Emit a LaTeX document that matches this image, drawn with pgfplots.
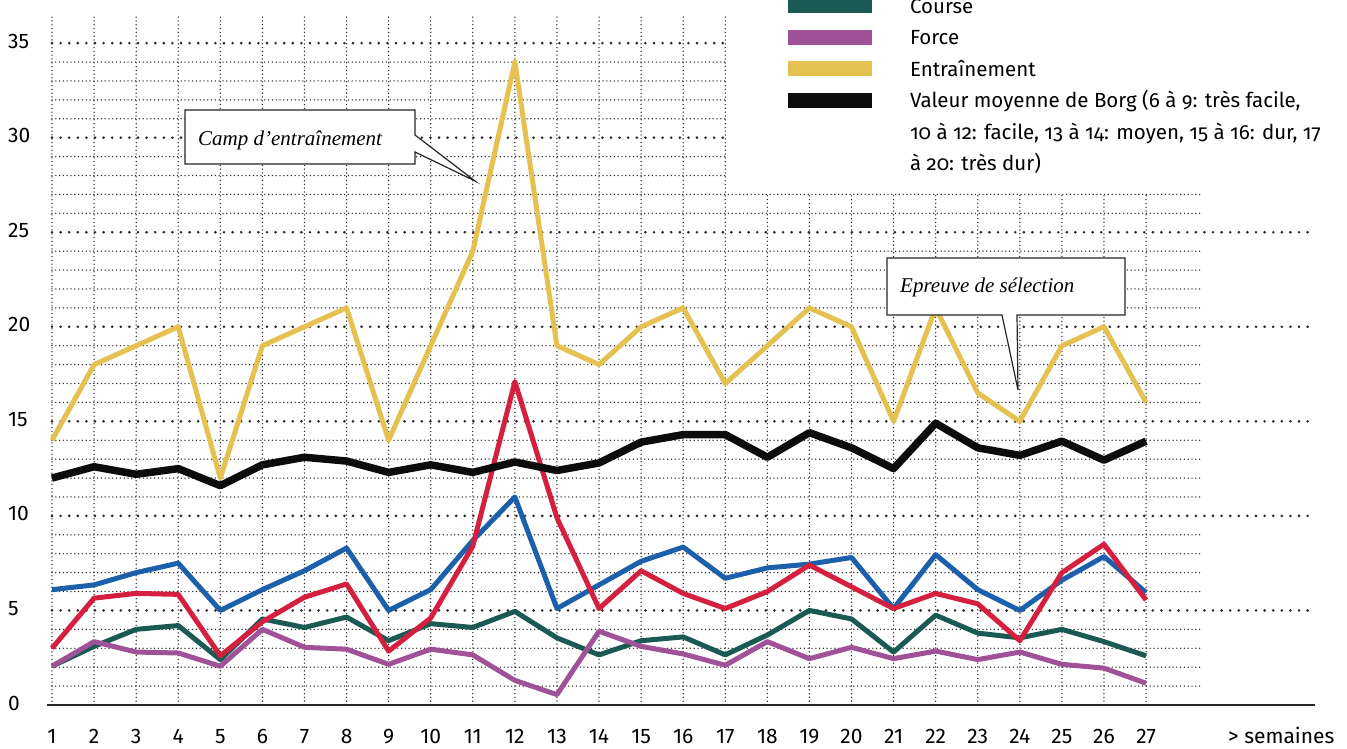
\documentclass[border=0pt]{standalone}
\usepackage{fontspec}
\setmainfont{Fira Sans}
\newfontfamily\legfont[Numbers=OldStyle]{Fira Sans}
\newfontfamily\callfont{Liberation Serif}
\usepackage{pgfplots}
\pgfplotsset{compat=1.18}
\usepackage{pgfplotstable}

\definecolor{cyellow}{RGB}{228,193,80}
\definecolor{cblue}{RGB}{28,96,172}
\definecolor{cred}{RGB}{212,32,62}
\definecolor{cteal}{RGB}{26,90,82}
\definecolor{cpurple}{RGB}{160,82,152}
\definecolor{cblack}{RGB}{12,12,12}
\definecolor{cgrid}{RGB}{45,40,40}

\pgfplotstableread{
w  ent  borg  blue  red   course force
1  14   12.0  6.1   3.0   2.05   2.05
2  18   12.6  6.35  5.65  3.1    3.35
3  19   12.2  7.0   5.9   4.0    2.8
4  20   12.5  7.5   5.85  4.2    2.75
5  12   11.6  5.0   2.6   2.4    2.05
6  19   12.7  6.1   4.4   4.55   4.0
7  20   13.1  7.1   5.7   4.1    3.05
8  21   12.9  8.3   6.4   4.65   2.95
9  14   12.3  5.0   2.85  3.4    2.15
10 19   12.7  6.1   4.6   4.3    2.95
11 24   12.3  8.7   8.4   4.1    2.65
12 34   12.85 11.0  17.1  4.95   1.3
13 19   12.4  5.1   9.9   3.55   0.55
14 18   12.8  6.35  5.1   2.65   3.9
15 20   13.9  7.6   7.1   3.4    3.1
16 21   14.3  8.35  5.9   3.6    2.7
17 17   14.3  6.7   5.1   2.65   2.1
18 19   13.1  7.25  6.0   3.7    3.35
19 21   14.4  7.45  7.4   5.0    2.45
20 20   13.6  7.8   6.25  4.55   3.05
21 15   12.5  5.1   5.1   2.8    2.45
22 21   14.9  7.95  5.9   4.75   2.85
23 16.5 13.6  6.1   5.35  3.8    2.4
24 15   13.2  5.0   3.4   3.55   2.8
25 19   13.95 6.6   7.0   4.0    2.15
26 20   12.95 7.85  8.5   3.35   1.95
27 16   13.95 5.95  5.55  2.6    1.15
}\datatable

\tikzset{
  minorgrid/.style={cgrid, line width=1.5pt, line cap=round, dash pattern=on 0pt off 3.8pt},
  majorgrid/.style={cgrid, line width=2.9pt, line cap=round, dash pattern=on 0pt off 8.6pt},
}

\begin{document}
\begin{tikzpicture}
\begin{axis}[
  at={(9.92pt,44pt)}, anchor=south west,
  scale only axis, width=1346.56pt, height=699.67pt,
  xmin=0, xmax=32, ymin=0, ymax=37,
  clip=false, set layers,
  axis line style={draw=none}, tick style={draw=none},
  xtick={1,...,27}, ytick={0,5,...,35},
  /pgf/number format/assume math mode=true,
  tick label style={font=\fontsize{21}{25}\selectfont, inner sep=0pt},
  xticklabel style={anchor=base, yshift=-39pt},
  yticklabel style={anchor=west, xshift=-2pt, yshift=2pt},
  xlabel={> semaines},
  xlabel style={at={(axis description cs:0.9046,-0.0557)}, anchor=base west,
    font=\fontsize{21}{25}\selectfont, inner sep=0pt},
  legend image code/.code={\draw[#1, line width=15pt, line cap=butt] (0pt,7.5pt) -- (84pt,7.5pt);},
  legend style={draw=none, fill=none, inner sep=0pt, outer sep=0pt,
    row sep=11.5pt, column sep=31pt,
    at={(0.57190,1.00976)}, anchor=north west,
    cells={anchor=base west},
    nodes={inner sep=0pt, text height=15pt, text depth=5pt,
      font=\legfont\fontsize{20.5}{31.5}\selectfont}},
]
\begin{pgfonlayer}{axis background}
  \pgfplotsinvokeforeach{1,...,17}{\draw[minorgrid] (axis cs:#1,0) -- (axis cs:#1,36.45);}
  \pgfplotsinvokeforeach{18,...,27}{\draw[minorgrid] (axis cs:#1,0) -- (axis cs:#1,27);}
  \pgfplotsinvokeforeach{1,2,3,4,6,7,8,9,11,12,13,14,16,17,18,19,21,22,23,24,26,27}{\draw[minorgrid] (axis cs:1,#1) -- (axis cs:28.28,#1);}
  \pgfplotsinvokeforeach{28,29,31,32,33,34}{\draw[minorgrid] (axis cs:1,#1) -- (axis cs:17,#1);}
  \pgfplotsinvokeforeach{5,10,15,20,25}{\draw[majorgrid] (axis cs:1,#1) -- (axis cs:31.01,#1);}
  \pgfplotsinvokeforeach{30,35}{\draw[majorgrid] (axis cs:1,#1) -- (axis cs:17,#1);}
  \draw[black!85, line width=1.6pt] (axis cs:0.88,0) -- (axis cs:31.01,0);
\end{pgfonlayer}

\addplot[cblue, line width=5pt, line join=round, forget plot] table[x=w, y=blue] {\datatable};
\addplot[cteal, line width=5pt, line join=round] table[x=w, y=course] {\datatable};
\addlegendentry{Course}
\addplot[cpurple, line width=5pt, line join=round] table[x=w, y=force] {\datatable};
\addlegendentry{Force}
\addplot[cred, line width=5pt, line join=round, forget plot] table[x=w, y=red] {\datatable};
\addplot[cyellow, line width=5pt, line join=round] table[x=w, y=ent] {\datatable};
\addlegendentry{Entraînement}
\addplot[cblack, line width=7.5pt, line join=round] table[x=w, y=borg] {\datatable};
\addlegendentry{\begin{tabular}[t]{@{}l@{}}Valeur moyenne de Borg (6 à 9: très facile,\\10 à 12: facile, 13 à 14: moyen, 15 à 16: dur, 17\\à 20: très dur)\end{tabular}}
\end{axis}

% callouts
\draw[line width=1.2pt, draw=black!85, fill=white, line join=miter]
  (185pt,639pt) -- (415pt,639pt) -- (415pt,614pt) -- (475pt,568pt) -- (415pt,597pt)
  -- (415pt,585pt) -- (185pt,585pt) -- cycle;
\node[anchor=base west, inner sep=0pt, font=\callfont\itshape\fontsize{21}{25}\selectfont]
  at (198pt,603pt) {Camp d’entraînement};
\draw[line width=1.2pt, draw=black!85, fill=white, line join=miter]
  (887pt,491pt) -- (1125pt,491pt) -- (1125pt,434pt) -- (1017pt,434pt) -- (1018pt,359pt)
  -- (1002pt,434pt) -- (887pt,434pt) -- cycle;
\node[anchor=base west, inner sep=0pt, font=\callfont\itshape\fontsize{21}{25}\selectfont]
  at (900pt,456pt) {Epreuve de sélection};
\pgfresetboundingbox
\useasboundingbox (0,0) rectangle (1347pt,749pt);
\end{tikzpicture}
\end{document}
